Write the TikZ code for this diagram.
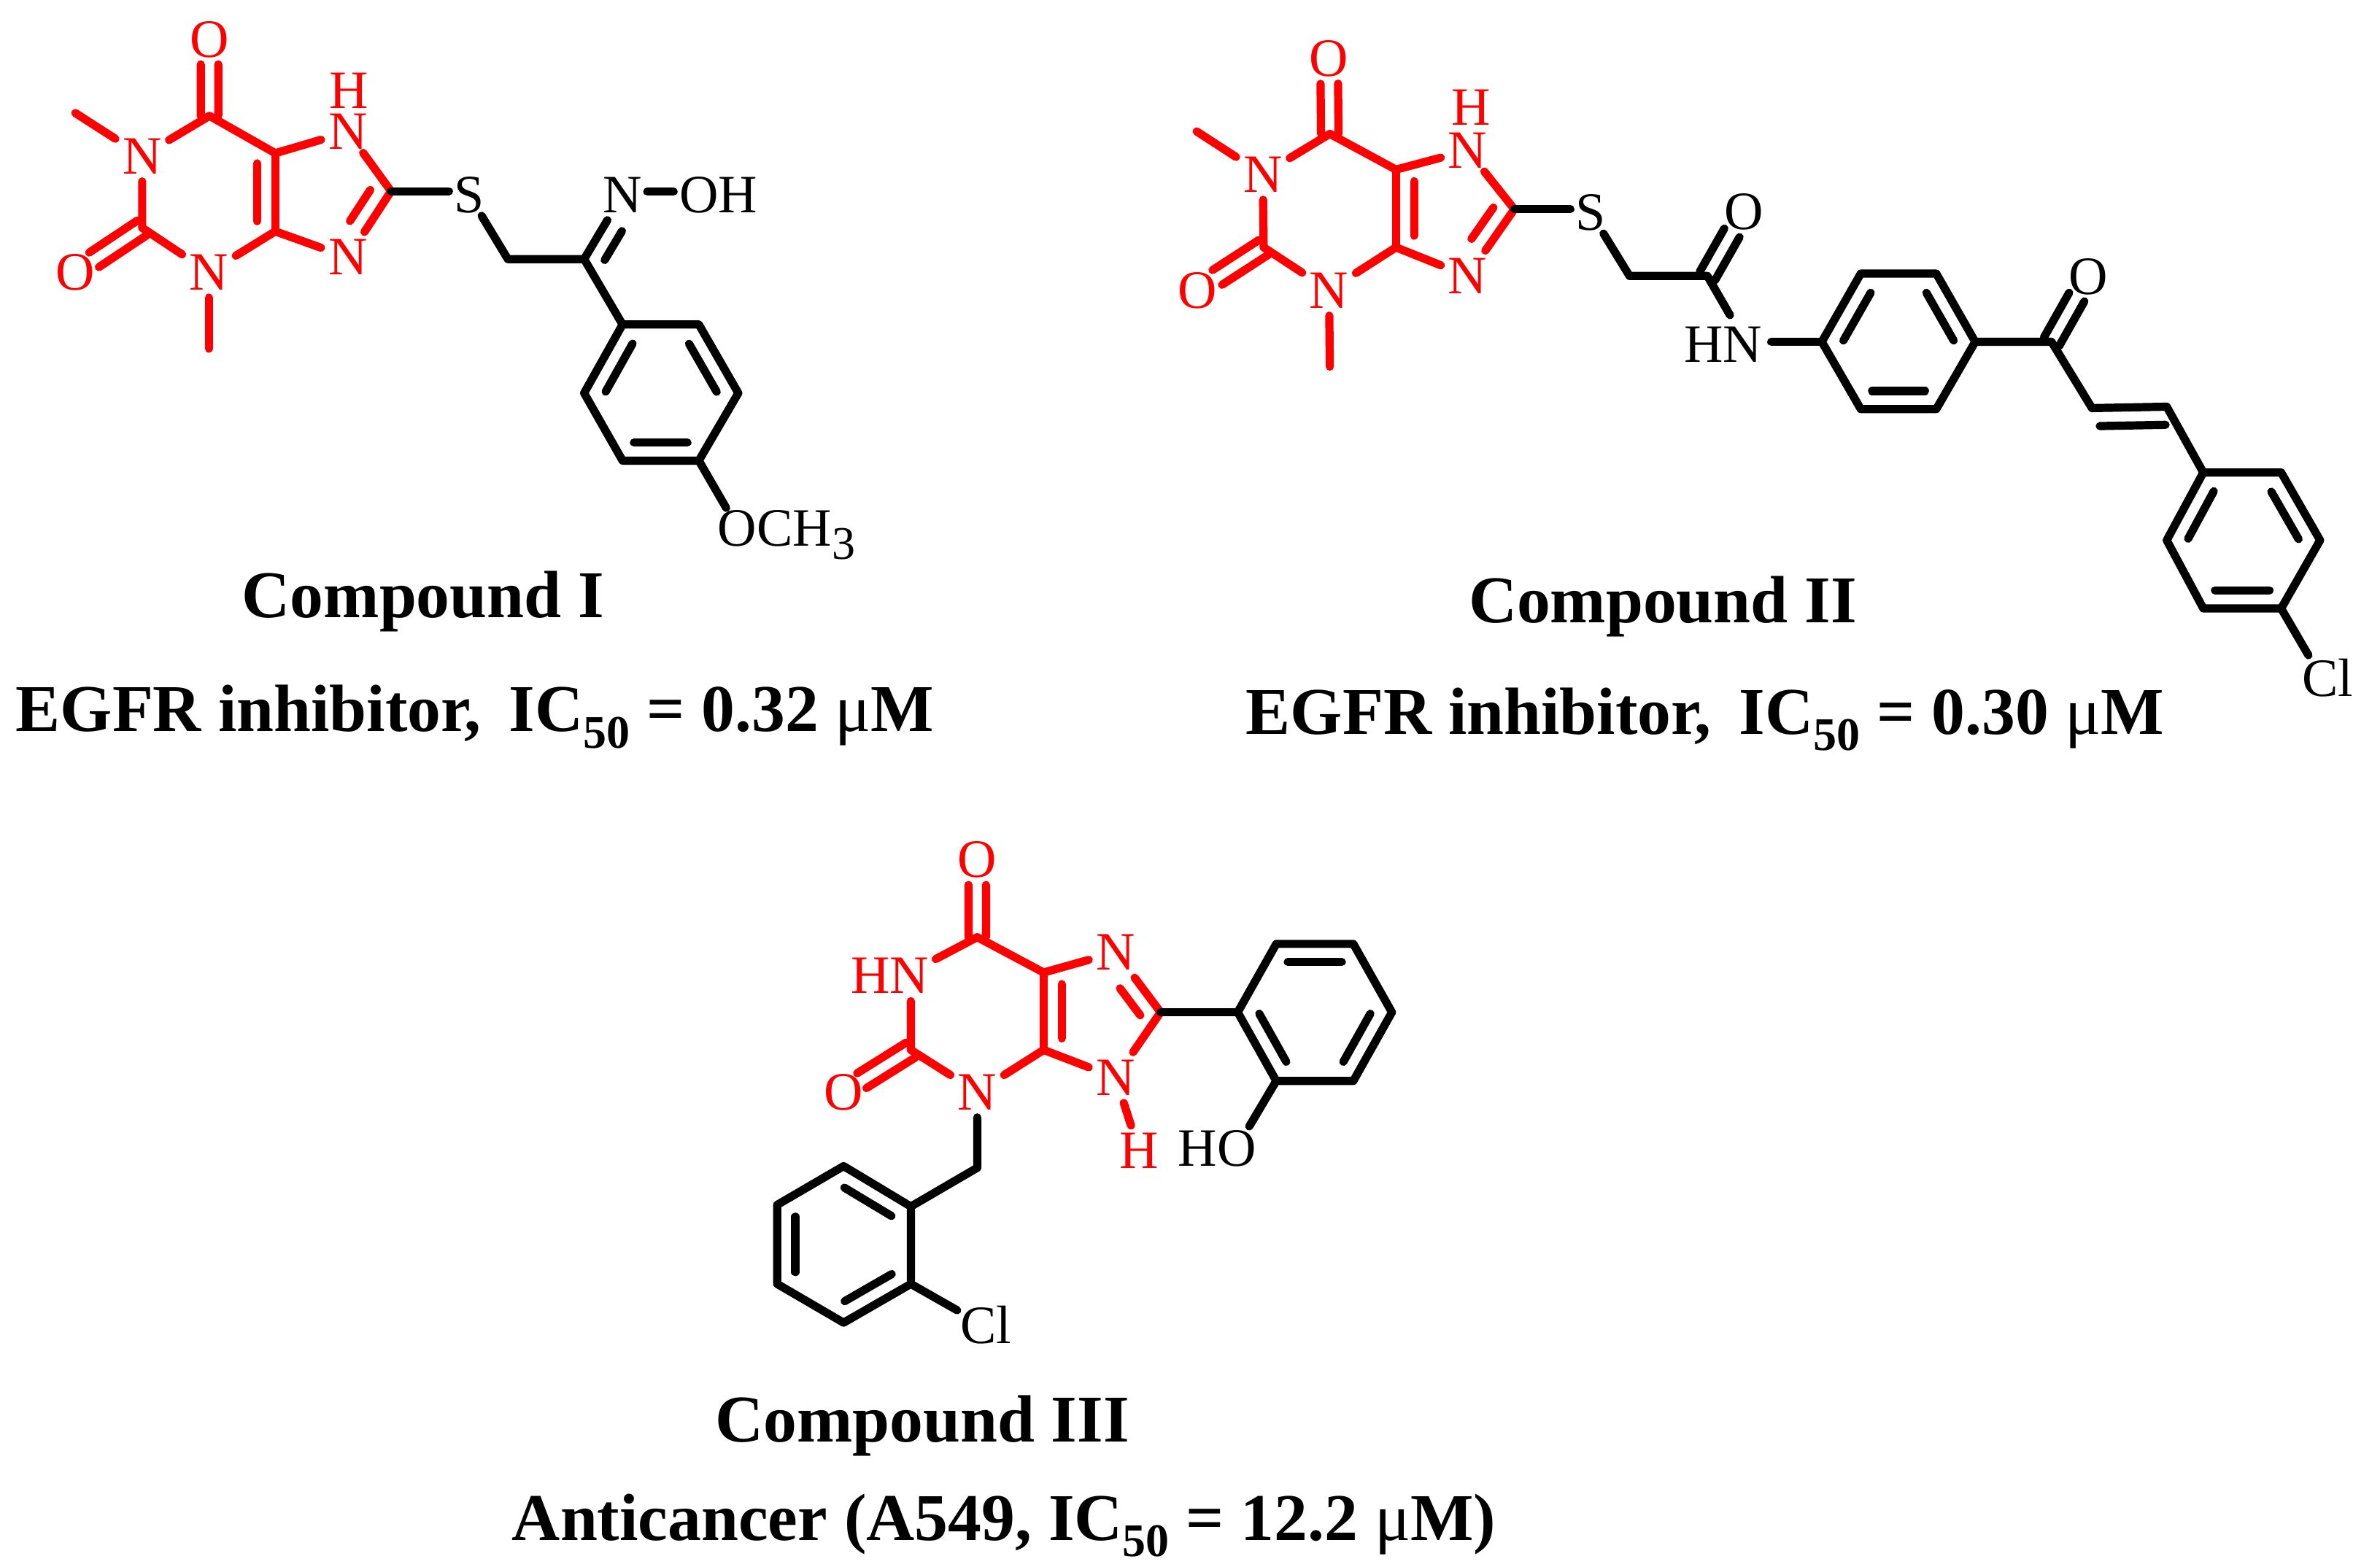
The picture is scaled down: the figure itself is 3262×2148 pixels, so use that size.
\documentclass[tikz,border=0pt]{standalone}
\usepackage{fontspec}
\setmainfont{Liberation Serif}
\usetikzlibrary{calc}
\definecolor{xred}{RGB}{255,0,0}
\tikzset{
  bond/.style={line width=2.8pt,line cap=round,line join=round},
  redbond/.style={bond,draw=xred},
  atom/.style={font=\fontsize{18.5}{18.5}\selectfont,inner sep=0pt,minimum width=18pt,minimum height=17pt},
  atomsmall/.style={atom,minimum width=13.5pt,minimum height=14pt},
  label/.style={font=\fontsize{18.5}{18.5}\selectfont,inner sep=0pt},
  redatom/.style={atom,text=xred},
  redtop/.style={redatom,minimum height=14pt},
  redlabel/.style={label,text=xred},
  caption/.style={font=\fontsize{22.9}{22.9}\selectfont\bfseries,inner sep=0pt,anchor=base}
}
% inner line of a double bond, on the left of the way from #2 to #3
\newcommand\inb[5][bond]{\draw[#1] ($(#2)!#4!(#3)!6.2pt!90:(#3)$) -- ($(#3)!#5!(#2)!6.2pt!-90:(#2)$);}
% centred double bond from #2 to #3
\newcommand\dbl[5][bond]{%
  \draw[#1] ($(#2)!#4!(#3)!3pt!90:(#3)$) -- ($(#3)!#5!(#2)!3pt!-90:(#2)$);
  \draw[#1] ($(#2)!#4!(#3)!3pt!-90:(#3)$) -- ($(#3)!#5!(#2)!3pt!90:(#2)$);}
\newcommand\subn[1]{\raisebox{-.25em}{\fontsize{16}{16}\selectfont #1}}
\newcommand\mumol{{\mdseries μ}M}
\begin{document}
\begin{tikzpicture}[x=0.25pt,y=-0.25pt]
\useasboundingbox (0,0) rectangle (3262,2148);
\fill[white] (0,0) rectangle (3262,2148);

%% Compound I
\begin{scope}[shift={(60,20)},x=0.18028pt,y=-0.12179pt]
\coordinate (c6) at (315,285);
\coordinate (c2) at (187,600);
\coordinate (c4) at (440,610);
\coordinate (c5) at (440,390);
\coordinate (c8) at (660,497);
\coordinate (me1) at (60,277);
\coordinate (me3) at (314,940);
\coordinate (send) at (770,497);
\coordinate (ch2) at (882,688);
\coordinate (cx) at (1027,688);
\coordinate (noh) at (1147,498);
\coordinate (ohs) at (1197,498);
\coordinate (ra) at (1100,872);
\coordinate (rb) at (1245,872);
\coordinate (rc) at (1320,1065);
\coordinate (rd) at (1245,1255);
\coordinate (re) at (1100,1255);
\coordinate (rf) at (1027,1065);
\coordinate (ome) at (1297,1388);
\node[redatom] (o6) at (315,70) {O};
\node[redatom] (n1) at (187,398) {N};
\node[redatom] (o2) at (60,725) {O};
\node[redatom] (n3) at (314,725) {N};
\node[redtop] (n7) at (578,330) {N};
\node[redlabel] (h7) at (580,215) {H};
\node[redatom] (n9) at (578,683) {N};
\node[atomsmall] (s) at (808,507) {S};
\node[atom] (nx) at (1100,507) {N};
\node[label] (oh) at (1282,507) {OH};
\node[label,anchor=base west] (och) at (1280,1495) {OCH\subn{3}};
\draw[redbond] (me1) -- (n1);
\draw[redbond] (n1) -- (c6) -- (c5) -- (n7);
\draw[redbond] (n1) -- (c2) -- (n3) -- (c4) -- (n9);
\draw[redbond] (c4) -- (c5);
\draw[redbond] (n3) -- (me3);
\draw[redbond] (n7) -- (c8) -- (n9);
\dbl[redbond]{c6}{o6}{0}{.326}
\dbl[redbond]{c2}{o2}{0}{.28}
\inb[redbond]{c4}{c5}{.13}{.13}
\inb[redbond]{n9}{c8}{.4}{.13}
\draw[bond] (c8) -- (send);
\draw[bond] (s) -- (ch2) -- (cx) -- (nx);
\draw[bond] (noh) -- (ohs);
\inb{nx}{cx}{.42}{.13}
\draw[bond] (cx) -- (ra);
\draw[bond] (ra) -- (rb) -- (rc) -- (rd) -- (re) -- (rf) -- cycle;
\inb{ra}{rf}{.15}{.15}
\inb{rc}{rb}{.15}{.15}
\inb{re}{rd}{.15}{.15}
\draw[bond] (rd) -- (ome);
\end{scope}

%% Compound II
\begin{scope}[shift={(1590,20)},x=0.26675pt,y=-0.16346pt]
\coordinate (c6) at (218,250);
\coordinate (c2) at (133,488);
\coordinate (c4) at (303,488);
\coordinate (c5) at (303,325);
\coordinate (c8) at (455,408);
\coordinate (me1) at (47,245);
\coordinate (me3) at (218,738);
\coordinate (send) at (527,408);
\coordinate (ch2) at (603,548);
\coordinate (ca) at (703,548);
\coordinate (hna) at (732,630);
\coordinate (hnb) at (785,686);
\coordinate (ra) at (850,686);
\coordinate (rb) at (900,543);
\coordinate (rc) at (997,543);
\coordinate (rd) at (1047,686);
\coordinate (re) at (997,827);
\coordinate (rf) at (900,827);
\coordinate (ck) at (1145,686);
\coordinate (ce) at (1197,825);
\coordinate (cz) at (1293,822);
\coordinate (qa) at (1340,960);
\coordinate (qb) at (1440,960);
\coordinate (qc) at (1490,1102);
\coordinate (qd) at (1440,1245);
\coordinate (qe) at (1340,1245);
\coordinate (qf) at (1293,1102);
\coordinate (cle) at (1475,1343);
\node[redatom] (o6) at (217,92) {O};
\node[redatom] (n1) at (132,335) {N};
\node[redatom] (o2) at (48,578) {O};
\node[redatom] (n3) at (217,578) {N};
\node[redtop] (n7) at (395,285) {N};
\node[redlabel] (h7) at (399,195) {H};
\node[redatom] (n9) at (395,548) {N};
\node[atomsmall] (s) at (553,415) {S};
\node[atom] (oa) at (750,413) {O};
\node[label] (hn) at (723,692) {HN};
\node[atom] (ok) at (1192,550) {O};
\node[label] (cl) at (1500,1390) {Cl};
\draw[redbond] (me1) -- (n1);
\draw[redbond] (n1) -- (c6) -- (c5) -- (n7);
\draw[redbond] (n1) -- (c2) -- (n3) -- (c4) -- (n9);
\draw[redbond] (c4) -- (c5);
\draw[redbond] (n3) -- (me3);
\draw[redbond] (n7) -- (c8) -- (n9);
\dbl[redbond]{c6}{o6}{0}{.335}
\dbl[redbond]{c2}{o2}{0}{.3}
\inb[redbond]{c5}{c4}{.15}{.15}
\inb[redbond]{n9}{c8}{.4}{.13}
\draw[bond] (c8) -- (send);
\draw[bond] (s) -- (ch2) -- (ca) -- (hna);
\dbl{ca}{oa}{0}{.33}
\draw[bond] (hnb) -- (ra);
\draw[bond] (ra) -- (rb) -- (rc) -- (rd) -- (re) -- (rf) -- cycle;
\inb{rb}{ra}{.15}{.15}
\inb{rd}{rc}{.15}{.15}
\inb{rf}{re}{.15}{.15}
\draw[bond] (rd) -- (ck) -- (ce) -- (cz) -- (qa);
\dbl{ck}{ok}{0}{.31}
\inb{cz}{ce}{.02}{.1}
\draw[bond] (qa) -- (qb) -- (qc) -- (qd) -- (qe) -- (qf) -- cycle;
\inb{qa}{qf}{.15}{.15}
\inb{qc}{qb}{.15}{.15}
\inb{qe}{qd}{.15}{.15}
\draw[bond] (qd) -- (cle);
\end{scope}

%% Compound III
\begin{scope}[shift={(1030,1130)},x=0.14678pt,y=-0.11538pt]
\coordinate (c6) at (527,335);
\coordinate (c2) at (372,670);
\coordinate (c4) at (682,670);
\coordinate (c5) at (682,440);
\coordinate (c8) at (955,558);
\coordinate (hna) at (430,400);
\coordinate (hnb) at (372,525);
\coordinate (ch2) at (527,1020);
\coordinate (ra) at (1135,558);
\coordinate (rb) at (1225,355);
\coordinate (rc) at (1405,355);
\coordinate (rd) at (1495,558);
\coordinate (re) at (1405,762);
\coordinate (rf) at (1225,762);
\coordinate (hoe) at (1162,897);
\coordinate (qa) at (372,1135);
\coordinate (qb) at (215,1015);
\coordinate (qc) at (60,1130);
\coordinate (qd) at (60,1365);
\coordinate (qe) at (215,1480);
\coordinate (qf) at (372,1365);
\coordinate (cle) at (480,1443);
\node[redatom] (o6) at (527,105) {O};
\node[redlabel] (hn) at (323,450) {HN};
\node[redatom] (o2) at (215,795) {O};
\node[redatom] (n3) at (527,795) {N};
\node[redatom] (n7) at (850,380) {N};
\node[redatom] (n9) at (850,752) {N};
\node[redatom] (h9) at (905,970) {H};
\node[label] (ho) at (1087,962) {HO};
\node[label] (cl) at (547,1487) {Cl};
\draw[redbond] (hna) -- (c6) -- (c5) -- (n7) -- (c8) -- (n9) -- (c4) -- (n3) -- (c2) -- (hnb);
\draw[redbond] (c4) -- (c5);
\draw[redbond] (n9) -- (h9);
\dbl[redbond]{c6}{o6}{0}{.326}
\dbl[redbond]{c2}{o2}{0}{.27}
\inb[redbond]{c5}{c4}{.15}{.15}
\inb[redbond]{c8}{n7}{.13}{.42}
\draw[bond] (c8) -- (ra);
\draw[bond] (ra) -- (rb) -- (rc) -- (rd) -- (re) -- (rf) -- cycle;
\inb{rc}{rb}{.15}{.15}
\inb{re}{rd}{.15}{.15}
\inb{ra}{rf}{.15}{.15}
\draw[bond] (rf) -- (hoe);
\draw[bond] (n3) -- (ch2) -- (qa);
\draw[bond] (qa) -- (qb) -- (qc) -- (qd) -- (qe) -- (qf) -- cycle;
\inb{qa}{qb}{.15}{.15}
\inb{qc}{qd}{.15}{.15}
\inb{qe}{qf}{.15}{.15}
\draw[bond] (qf) -- (cle);
\end{scope}

%% Captions
\node[caption] (t1) at (580,847) {Compound I};
\node[caption] (d1) at (651,1003) {EGFR inhibitor,\, IC\subn{50} = 0.32 \mumol};
\node[caption] (t2) at (2279,854) {Compound II};
\node[caption] (d2) at (2337,1006) {EGFR inhibitor,\, IC\subn{50} = 0.30 \mumol};
\node[caption] (t3) at (1264,1976) {Compound III};
\node[caption] (d3) at (1376,2111) {Anticancer (A549, IC\subn{50} = 12.2 \mumol)};
\end{tikzpicture}
\end{document}
